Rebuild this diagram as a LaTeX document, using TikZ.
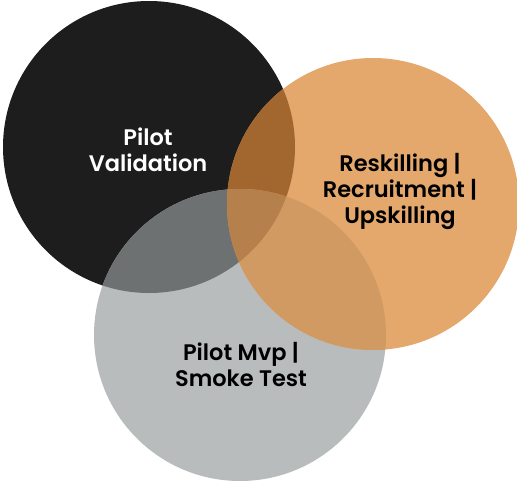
\documentclass[tikz,border=0pt]{standalone}
\usepackage{fontspec}
\setmainfont{Poppins}[BoldFont={Poppins SemiBold}]
\definecolor{ink}{HTML}{1D1D1D}
\definecolor{sand}{HTML}{E4A76C}
\definecolor{ash}{HTML}{B9BCBC}
\definecolor{inkash}{HTML}{6E7172}
\definecolor{inksand}{HTML}{A2672F}
\definecolor{ashsand}{HTML}{D19A62}
\definecolor{allthree}{HTML}{B6804D}
\tikzset{
  lbl/.style={align=center, font=\bfseries\fontsize{22.5}{26}\selectfont},
}
\begin{document}
\begin{tikzpicture}[x=1pt, y=-1pt]
  \useasboundingbox (0,0) rectangle (517,483);
  % circles
  \coordinate (cb) at (149,147);
  \coordinate (co) at (373,204);
  \coordinate (cg) at (240,335);
  \def\rad{146}
  \fill[ink] (cb) circle (\rad);
  \fill[ash] (cg) circle (\rad);
  \fill[sand] (co) circle (\rad);
  % overlaps
  \begin{scope}
    \clip (cb) circle (\rad);
    \fill[inkash] (cg) circle (\rad);
    \fill[inksand] (co) circle (\rad);
  \end{scope}
  \begin{scope}
    \clip (cg) circle (\rad);
    \fill[ashsand] (co) circle (\rad);
    \clip (co) circle (\rad);
    \fill[allthree] (cb) circle (\rad);
  \end{scope}
  % labels
  \node[lbl, text=white] (pilot) at (148,150) {Pilot\\Validation};
  \node[lbl, text=black] (reskill) at (400,191) {Reskilling |\\Recruitment |\\Upskilling};
  \node[lbl, text=black] (mvp) at (241,365) {Pilot Mvp |\\Smoke Test};
\end{tikzpicture}
\end{document}
